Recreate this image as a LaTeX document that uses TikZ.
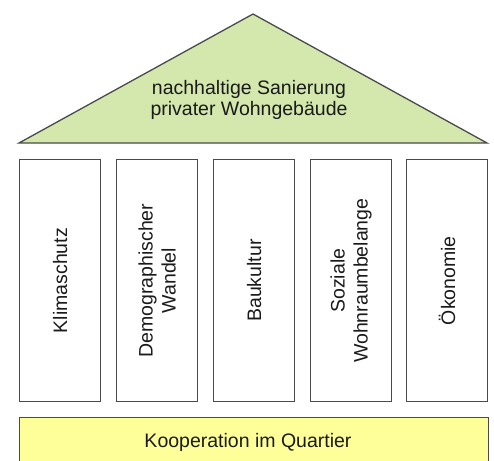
\documentclass[tikz,border=0pt]{standalone}
\usepackage{fontspec}
\setmainfont{Liberation Sans}
\definecolor{roofgreen}{HTML}{D4E8AE}
\definecolor{baseyellow}{HTML}{FFFF99}
\definecolor{edgegray}{HTML}{4A4A4A}
\definecolor{txt}{HTML}{1A1A1A}
\begin{document}
\begin{tikzpicture}[x=1pt,y=-1pt,
  edge/.style={draw=edgegray,line width=1.3pt},
  pillar/.style={edge,fill=white,minimum width=81pt,minimum height=242pt,inner sep=0pt,anchor=north west},
  lbl/.style={text=txt,font=\fontsize{19.5}{21}\selectfont,align=center,inner sep=0pt},
  vlbl/.style={lbl,rotate=90,font=\fontsize{19.5}{23}\selectfont}]
\useasboundingbox (0,0) rectangle (494,460);
\clip (0,0) rectangle (494,460);
% roof
\coordinate (apex) at (253,14);
\coordinate (roofL) at (19,143);
\coordinate (roofR) at (487,143);
\draw[edge,fill=roofgreen,line join=miter] (roofL) -- (apex) -- (roofR) -- cycle;
\node[lbl] (roof) at (249,100) {nachhaltige Sanierung\\privater Wohngebäude};
% pillars
\node[pillar] (p1) at (19,159) {};
\node[pillar] (p2) at (116,159) {};
\node[pillar] (p3) at (213,159) {};
\node[pillar] (p4) at (310,159) {};
\node[pillar] (p5) at (406,159) {};
\node[vlbl] (t1) at (p1.center) {Klimaschutz};
\node[vlbl] (t2) at (p2.center) {Demographischer\\Wandel};
\node[vlbl] (t3) at (p3.center) {Baukultur};
\node[vlbl] (t4) at (p4.center) {Soziale\\Wohnraumbelange};
\node[vlbl] (t5) at (p5.center) {Ökonomie};
% base
\node[edge,fill=baseyellow,minimum width=469pt,minimum height=60pt,inner sep=0pt,anchor=north west] (base) at (19,417) {};
\node[lbl] (bt) at (248,442) {Kooperation im Quartier};
\end{tikzpicture}
\end{document}
